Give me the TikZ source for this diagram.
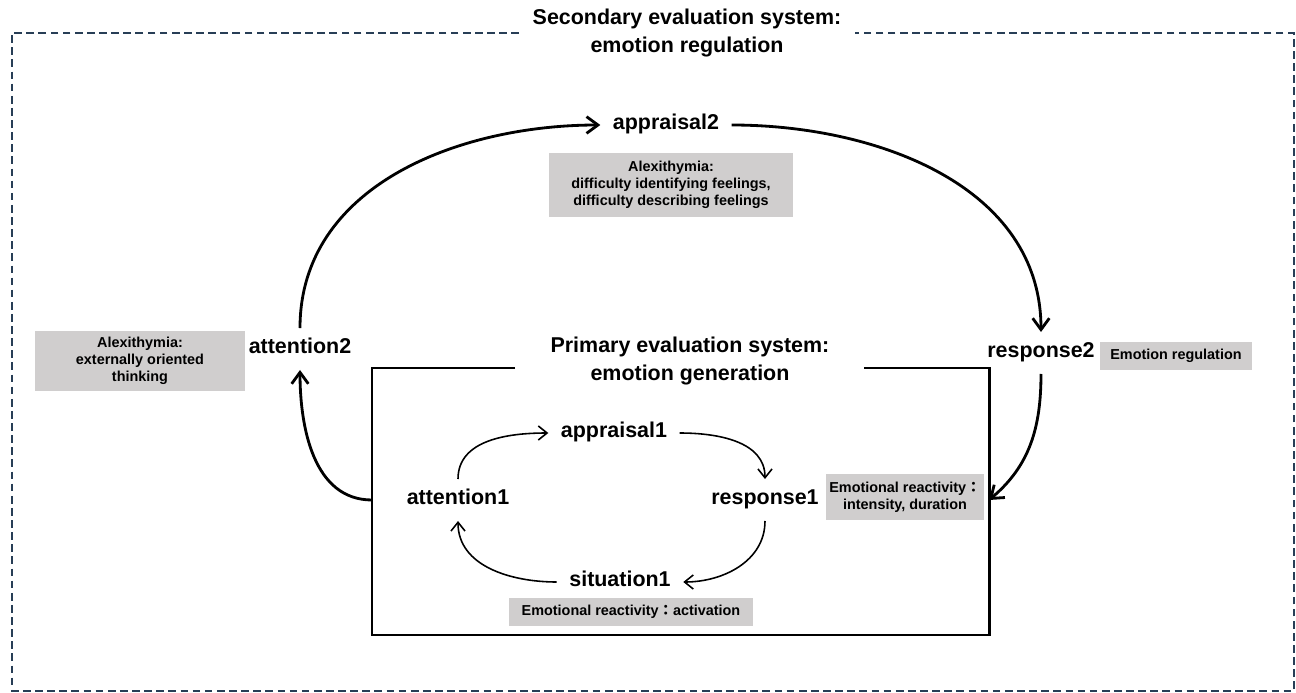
\documentclass[tikz,border=0pt]{standalone}
\usepackage{fontspec}
\setmainfont{Liberation Sans}
\newfontfamily\cjk{Noto Sans CJK TC}
\usepackage{xcolor}
\usetikzlibrary{positioning}
\usetikzlibrary{arrows.meta}
\definecolor{framegray}{RGB}{40,62,86}
\definecolor{notegray}{RGB}{208,206,206}
\tikzset{
	stage/.style={font=\fontsize{12.2}{15}\selectfont\bfseries, inner sep=7pt, text height=0.75em, text depth=0.2em},
	systitle/.style={font=\fontsize{12.2}{15.4}\selectfont\bfseries, align=center},
	notebox/.style={fill=notegray, font=\fontsize{8.2}{9.7}\selectfont\bfseries, align=center, inner sep=0pt},
	outerarrow/.style={line width=1.6pt, -{Straight Barb[length=6.5pt,width=9.5pt]}},
	innerarrow/.style={line width=0.9pt, -{Straight Barb[length=5pt,width=8pt]}},
}
\begin{document}
\begin{tikzpicture}[x=0.02cm, y=-0.02cm]
				\useasboundingbox (0,0) rectangle (1296,693);
				
				\draw[framegray, line width=1.35pt, dash pattern=on 4.4pt off 2.5pt] (519,33) -- (12,33) -- (12,691) -- (1294,691) -- (1294,33) -- (855,33);
				\node[systitle] (secT) at (687,33) {Secondary evaluation system:\\emotion regulation};
				
				\draw[line width=1.7pt] (515,368) -- (372,368) -- (372,635) -- (989,635) -- (989,368) -- (864,368);
				\node[systitle] (primT) at (690,361) {Primary evaluation system:\\emotion generation};
				\coordinate (primL) at (372,500);
				\coordinate (primR) at (989,500);
				
				\node[stage] (app2) at (666,125) {appraisal2};
				\node[stage] (att2) at (300,349) {attention2};
				\node[stage] (resp2) at (1041,353) {response2};
				
				\node[stage] (app1) at (614,433) {appraisal1};
				\node[stage] (att1) at (458,500) {attention1};
				\node[stage] (resp1) at (765,500) {response1};
				\node[stage] (sit1) at (620,582) {situation1};
				
				\node[notebox, minimum width=4.9cm, minimum height=1.28cm] (alexA) at (671,185) {Alexithymia:\\difficulty identifying feelings,\\difficulty describing feelings};
				\node[notebox, minimum width=4.2cm, minimum height=1.22cm] (alexL) at (140,361) {Alexithymia:\\externally oriented\\thinking};
				\node[notebox, minimum width=3.04cm, minimum height=0.56cm] (regN) at (1176,356) {Emotion regulation};
				\node[notebox, minimum width=3.16cm, minimum height=0.94cm] (reactR) at (905,497) {Emotional reactivity{\cjk ：}\\intensity, duration};
				\node[notebox, minimum width=4.88cm, minimum height=0.56cm] (reactS) at (631,612) {Emotional reactivity{\cjk ：}activation};
				
				\draw[outerarrow] (att2.north) to[out=90,in=180] (app2.west);
				\draw[outerarrow] (app2.east) to[out=0,in=90] (resp2.north);
				\draw[outerarrow] (resp2.south) to[out=-90,in=40] (primR);
				\draw[outerarrow] (primL) to[out=180,in=-90] (att2.south);
				
				\draw[innerarrow] (att1.north) to[out=90,in=180] (app1.west);
				\draw[innerarrow] (app1.east) to[out=0,in=90] (resp1.north);
				\draw[innerarrow] (resp1.south) to[out=-90,in=0] (sit1.east);
				\draw[innerarrow] (sit1.west) to[out=180,in=-90] (att1.south);
				
\end{tikzpicture}
\end{document}
